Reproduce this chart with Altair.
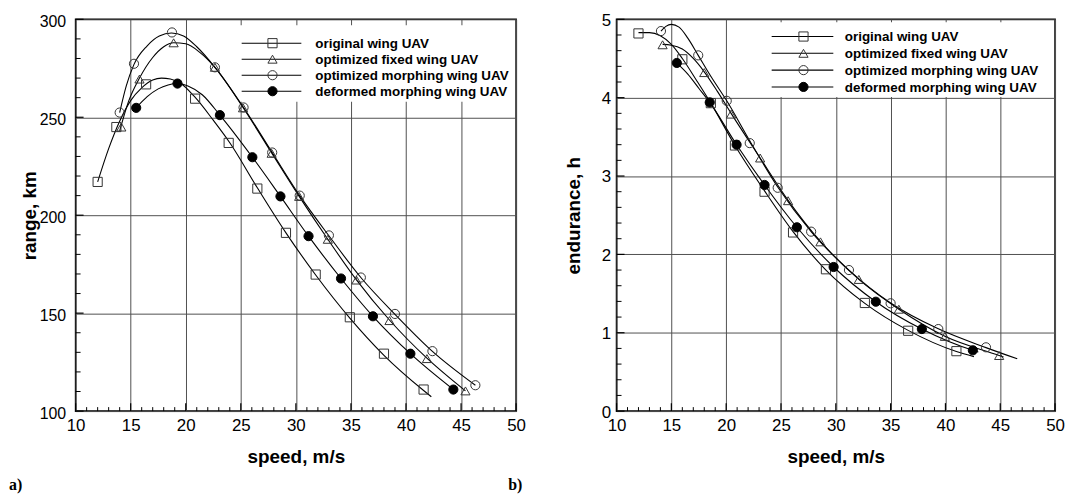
import altair as alt
import pandas as pd

# ---------------- data ----------------
SERIES = ["original wing UAV", "optimized fixed wing UAV",
          "optimized morphing wing UAV", "deformed morphing wing UAV"]
SHAPES = ["square", "triangle-up", "circle", "circle"]
FILLS = ["transparent", "transparent", "transparent", "black"]
STROKES = ["#333333", "#333333", "#333333", "black"]
PANEL_TAGS = ["a)", "b)"]

# panel a) range, km  -- marker points
orig_rng_x = [12.0, 13.7, 16.4, 20.85, 23.9, 26.5, 29.1, 31.8, 34.9, 38.0, 41.6]
orig_rng_y = [217, 245, 266.8, 259.5, 236.9, 213.6, 191.0, 169.7, 147.9, 129.3, 111.0]
fixd_rng_x = [14.15, 15.8, 18.9, 22.65, 25.2, 27.8, 30.3, 32.9, 35.5, 38.5, 41.9, 45.4]
fixd_rng_y = [245, 269.5, 288.0, 275.5, 254.8, 231.6, 209.6, 187.7, 166.9, 146.2, 126.8, 110.3]
morph_rng_x = [14.0, 15.3, 18.75, 22.65, 25.25, 27.85, 30.35, 33.0, 35.9, 39.0, 42.4, 46.3]
morph_rng_y = [252.4, 277.3, 293.3, 275.5, 255.0, 232.0, 210.0, 189.7, 168.2, 149.6, 130.6, 113.2]
defm_rng_x = [15.5, 19.25, 23.1, 26.05, 28.6, 31.15, 34.1, 37.0, 40.4, 44.3]
defm_rng_y = [254.8, 267.2, 251.1, 229.6, 209.6, 189.3, 167.7, 148.4, 129.3, 111.0]

# panel a) fitted curves
orig_rng_cx = [12.0, 13.0, 14.0, 15.0, 16.0, 17.0, 17.8, 18.6, 19.5, 20.8, 22.5, 24.0, 26.5, 29.1, 31.8, 34.9, 38.0, 41.6, 42.3]
orig_rng_cy = [217, 234, 248, 258.5, 265, 269, 270, 269.5, 267.5, 260.5, 248.5, 237, 214, 191, 169.5, 147.5, 128.5, 110.5, 107.3]
fixd_rng_cx = [14.0, 14.8, 15.8, 17.0, 18.0, 18.9, 20.0, 21.3, 22.65, 25.2, 27.8, 30.3, 32.9, 35.5, 38.5, 41.9, 45.4]
fixd_rng_cy = [243, 258, 270, 280.5, 286, 288, 287.5, 283, 275.5, 255, 231.8, 209.6, 187.7, 167, 146.5, 127, 110.3]
morph_rng_cx = [14.0, 14.6, 15.3, 16.5, 17.6, 18.7, 19.8, 21.0, 22.65, 25.25, 27.85, 30.35, 33.0, 35.9, 39.0, 42.4, 46.3]
morph_rng_cy = [252.4, 266, 277, 286.5, 291.5, 293, 291.5, 286, 275.5, 255, 232, 210, 189.5, 168.2, 149.4, 130.5, 113.2]
defm_rng_cx = [15.5, 16.5, 17.5, 18.4, 19.25, 20.2, 21.5, 23.1, 26.05, 28.6, 31.15, 34.1, 37.0, 40.4, 44.3]
defm_rng_cy = [254.8, 260.5, 264.5, 266.5, 267.2, 266, 261.5, 251.1, 229.6, 209.6, 189.3, 167.7, 148.4, 129.3, 111.0]

# panel b) endurance, h -- marker points
orig_end_x = [12.0, 16.0, 18.6, 20.8, 23.5, 26.1, 29.1, 32.65, 36.6, 41.0]
orig_end_y = [4.82, 4.49, 3.93, 3.39, 2.80, 2.28, 1.81, 1.38, 1.025, 0.765]
fixd_end_x = [14.2, 18.0, 20.45, 23.1, 25.65, 28.6, 32.1, 35.75, 39.95, 44.9]
fixd_end_y = [4.675, 4.32, 3.79, 3.23, 2.685, 2.16, 1.68, 1.30, 0.953, 0.709]
morph_end_x = [14.05, 17.45, 20.05, 22.15, 24.7, 27.75, 31.2, 35.0, 39.35, 43.7]
morph_end_y = [4.85, 4.54, 3.96, 3.42, 2.85, 2.29, 1.80, 1.376, 1.047, 0.814]
defm_end_x = [15.5, 18.5, 20.95, 23.5, 26.45, 29.8, 33.65, 37.85, 42.5]
defm_end_y = [4.443, 3.94, 3.40, 2.886, 2.346, 1.839, 1.396, 1.047, 0.776]

# panel b) fitted curves
orig_end_cx = [12.0, 13.0, 14.0, 15.0, 16.0, 17.3, 18.6, 20.8, 23.5, 26.1, 29.1, 32.65, 36.6, 41.0, 42.6]
orig_end_cy = [4.83, 4.83, 4.79, 4.68, 4.50, 4.22, 3.93, 3.39, 2.81, 2.29, 1.80, 1.375, 1.03, 0.76, 0.695]
fixd_end_cx = [14.2, 15.0, 16.0, 17.0, 18.0, 19.2, 20.45, 23.1, 25.65, 28.6, 32.1, 35.75, 39.95, 44.9, 45.3]
fixd_end_cy = [4.68, 4.67, 4.62, 4.50, 4.33, 4.08, 3.80, 3.23, 2.69, 2.165, 1.68, 1.30, 0.955, 0.71, 0.69]
morph_end_cx = [14.05, 14.5, 15.0, 15.7, 16.5, 17.45, 18.7, 20.05, 22.15, 24.7, 27.75, 31.2, 35.0, 39.35, 43.7, 46.55]
morph_end_cy = [4.85, 4.91, 4.935, 4.90, 4.76, 4.54, 4.25, 3.96, 3.45, 2.86, 2.29, 1.80, 1.38, 1.05, 0.81, 0.667]
defm_end_cx = [15.5, 16.5, 17.5, 18.5, 20.95, 23.5, 26.45, 29.8, 33.65, 37.85, 42.5, 43.0]
defm_end_cy = [4.44, 4.30, 4.12, 3.94, 3.40, 2.886, 2.346, 1.839, 1.396, 1.047, 0.776, 0.755]

# axis ticks
X_MAJOR = [10, 15, 20, 25, 30, 35, 40, 45, 50]
X_MINOR = list(range(10, 51))
RNG_MAJOR = [100, 150, 200, 250, 300]
RNG_MINOR = list(range(100, 301, 10))
END_MAJOR = [0, 1, 2, 3, 4, 5]
END_MINOR = [round(i * 0.2, 1) for i in range(26)]

# ---------------- style ----------------
FONT = "Liberation Sans"
H = 394
GRID = "#505050"


def long_df(xs_list, ys_list):
    rows = []
    for name, xs, ys in zip(SERIES, xs_list, ys_list):
        for x, y in zip(xs, ys):
            rows.append({"series": name, "x": x, "y": y})
    return pd.DataFrame(rows)


def panel(W, cx, cy, mx, my, ydom, ymajor, yminor, ytitle, ytitle_x,
          ylab_pad, ylab_size, ylab_off, leg, tags=False):
    xaxis = alt.Axis(values=X_MAJOR, format="d", title="speed, m/s",
                     titleFont=FONT, titleFontSize=19, titleFontWeight="bold",
                     titleColor="black", titleX=W / 2, titleY=52,
                     titleBaseline="alphabetic", titleAlign="center",
                     labelFont=FONT, labelFontSize=17, labelColor="black",
                     labelPadding=7, labelFlush=False, labelOverlap=False,
                     ticks=False, tickSize=0, domain=False, grid=True,
                     gridColor=GRID, gridWidth=1, zindex=0)
    yaxis = alt.Axis(values=ymajor, title=ytitle,
                     titleFont=FONT, titleFontSize=19, titleFontWeight="bold",
                     titleColor="black", titleX=ytitle_x, titleY=H / 2,
                     titleBaseline="alphabetic", titleAlign="center",
                     labelFont=FONT, labelFontSize=ylab_size, labelColor="black",
                     labelPadding=ylab_pad, labelOffset=ylab_off, labelFlush=False,
                     labelOverlap=False, ticks=False, tickSize=0, domain=False,
                     grid=True, gridColor=GRID, gridWidth=1, zindex=0)
    xs = alt.Scale(domain=[10, 50], nice=False, zero=False)
    ys = alt.Scale(domain=ydom, nice=False, zero=False)
    X = alt.X("x:Q", scale=xs, axis=xaxis)
    Y = alt.Y("y:Q", scale=ys, axis=yaxis)

    curves = long_df(cx, cy)
    marks = long_df(mx, my)
    one = pd.DataFrame({"k": [0]})
    bx0, bx1, by0, by1, lx0, lx1, mxp, tx, ry0, dy = leg

    layers = []
    # white legend box first: hides the grid, not the curves
    layers.append(alt.Chart(one).mark_rect(color="white").encode(
        x=alt.value(bx0), x2=alt.value(bx1), y=alt.value(by0), y2=alt.value(by1)))

    layers.append(alt.Chart(curves).mark_line(
        interpolate="monotone", strokeWidth=1.1, color="black").encode(
        x=X, y=Y, detail="series:N"))

    layers.append(alt.Chart(marks).mark_point(size=85, strokeWidth=1, filled=False,
                                              opacity=1).encode(
        x=X, y=Y,
        shape=alt.Shape("series:N", scale=alt.Scale(domain=SERIES, range=SHAPES), legend=None),
        fill=alt.Fill("series:N", scale=alt.Scale(domain=SERIES, range=FILLS), legend=None),
        stroke=alt.Stroke("series:N", scale=alt.Scale(domain=SERIES, range=STROKES), legend=None)))

    # inward ticks along bottom
    xmin = pd.DataFrame({"x": [v for v in X_MINOR if v not in X_MAJOR]})
    xmaj = pd.DataFrame({"x": X_MAJOR})
    layers.append(alt.Chart(xmin).mark_rule(color="black", strokeWidth=1).encode(
        x=X, y=alt.value(H), y2=alt.value(H - 4)))
    layers.append(alt.Chart(xmaj).mark_rule(color="black", strokeWidth=1.2).encode(
        x=X, y=alt.value(H), y2=alt.value(H - 8)))
    # inward ticks along left
    ymin = pd.DataFrame({"y": [v for v in yminor if v not in ymajor]})
    ymaj = pd.DataFrame({"y": ymajor})
    layers.append(alt.Chart(ymin).mark_rule(color="black", strokeWidth=1).encode(
        y=Y, x=alt.value(0), x2=alt.value(5)))
    layers.append(alt.Chart(ymaj).mark_rule(color="black", strokeWidth=1.2).encode(
        y=Y, x=alt.value(0), x2=alt.value(8)))

    # legend rows
    for i, name in enumerate(SERIES):
        ry = ry0 + dy * i
        layers.append(alt.Chart(one).mark_rule(color="black", strokeWidth=1.1).encode(
            x=alt.value(lx0), x2=alt.value(lx1), y=alt.value(ry)))
        layers.append(alt.Chart(one).mark_point(
            shape=SHAPES[i], size=85, filled=False, strokeWidth=1,
            stroke=STROKES[i], fill=FILLS[i], opacity=1).encode(
            x=alt.value(mxp), y=alt.value(ry)))
        layers.append(alt.Chart(one).mark_text(
            text=name, font=FONT, fontSize=13.5, fontWeight="bold",
            align="left", baseline="middle", color="black").encode(
            x=alt.value(tx), y=alt.value(ry + 0.8)))

    if tags:
        for tag, tagx in zip(PANEL_TAGS, [-67, 435]):
            layers.append(alt.Chart(one).mark_text(
                text=tag, font="Liberation Serif", fontSize=16,
                fontWeight="bold", align="left", baseline="alphabetic",
                color="black").encode(x=alt.value(tagx), y=alt.value(473)))

    return alt.layer(*layers).properties(width=W, height=H)


left = panel(443,
             [orig_rng_cx, fixd_rng_cx, morph_rng_cx, defm_rng_cx],
             [orig_rng_cy, fixd_rng_cy, morph_rng_cy, defm_rng_cy],
             [orig_rng_x, fixd_rng_x, morph_rng_x, defm_rng_x],
             [orig_rng_y, fixd_rng_y, morph_rng_y, defm_rng_y],
             [100, 300], RNG_MAJOR, RNG_MINOR, "range, km", -40,
             10, 16, 2,
             (163, 430, 6, 83, 167, 227, 198, 241, 24, 16.1), tags=True)

right = panel(441,
              [orig_end_cx, fixd_end_cx, morph_end_cx, defm_end_cx],
              [orig_end_cy, fixd_end_cy, morph_end_cy, defm_end_cy],
              [orig_end_x, fixd_end_x, morph_end_x, defm_end_x],
              [orig_end_y, fixd_end_y, morph_end_y, defm_end_y],
              [0, 5], END_MAJOR, END_MINOR, "endurance, h", -37,
              6, 17, 1,
              (150, 438, 3, 78, 156, 218, 188, 229.5, 17.3, 16.9))

chart = alt.hconcat(left, right, spacing=37).properties(
    padding={"left": 0, "top": 1, "right": 0, "bottom": 0},
    background="white",
).configure_view(stroke="black", strokeWidth=1.6)

chart.save("out.html", embed_options={"renderer": "svg", "actions": False})
